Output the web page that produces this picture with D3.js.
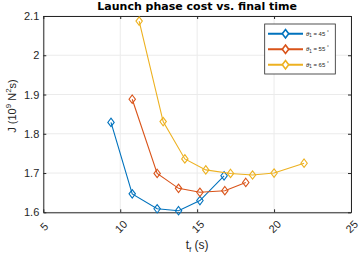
<!DOCTYPE html>
<html>
<head>
<meta charset="utf-8">
<script src="https://cdn.jsdelivr.net/npm/d3@7"></script>
<style>
  body { margin: 0; background: #fff; }
  svg text { font-family: "Liberation Sans", Arial, sans-serif; }
</style>
</head>
<body>
<div id="chart"></div>
<script>
// data
const angles = [45, 55, 65];
const tf45 = [9.40, 10.78, 12.40, 13.79, 15.18, 16.75];
const J45 = [1.829, 1.647, 1.609, 1.604, 1.630, 1.693];
const tf55 = [10.78, 12.40, 13.79, 15.18, 16.80, 18.16];
const J55 = [1.888, 1.699, 1.661, 1.651, 1.655, 1.676];
const tf65 = [11.23, 12.79, 14.20, 15.56, 17.17, 18.60, 20.00, 21.95];
const J65 = [2.087, 1.831, 1.736, 1.708, 1.699, 1.695, 1.700, 1.725];
const xTicks = [5, 10, 15, 20, 25];
const yTicks = [1.6, 1.7, 1.8, 1.9, 2.0, 2.1];
const colors = ["#0072BD", "#D95319", "#EDB120"];

const series = [
  { angle: angles[0], x: tf45, y: J45, color: colors[0] },
  { angle: angles[1], x: tf55, y: J55, color: colors[1] },
  { angle: angles[2], x: tf65, y: J65, color: colors[2] }
];

const width = 360, height = 259;
const pLeft = 43.3, pRight = 351, pTop = 16, pBottom = 212.3;
const axisColor = "#262626";

const svg = d3.select("#chart")
  .append("svg")
  .attr("width", width)
  .attr("height", height);

const x = d3.scaleLinear().domain([5, 25]).range([pLeft, pRight]);
const y = d3.scaleLinear().domain([1.6, 2.1]).range([pBottom, pTop]);

// grid
svg.append("g")
  .selectAll("line")
  .data(xTicks)
  .enter().append("line")
  .attr("x1", d => x(d)).attr("x2", d => x(d))
  .attr("y1", pTop).attr("y2", pBottom)
  .attr("stroke", "#ebebeb").attr("stroke-width", 1);

svg.append("g")
  .selectAll("line")
  .data(yTicks)
  .enter().append("line")
  .attr("x1", pLeft).attr("x2", pRight)
  .attr("y1", d => y(d)).attr("y2", d => y(d))
  .attr("stroke", "#ebebeb").attr("stroke-width", 1);

// axes
const xAxis = svg.append("g")
  .attr("transform", `translate(0,${pBottom})`)
  .call(d3.axisBottom(x).tickValues(xTicks).tickSizeInner(-3).tickSizeOuter(0).tickFormat(d3.format("d")));
xAxis.select(".domain").attr("stroke", axisColor);
xAxis.selectAll(".tick line").attr("stroke", axisColor);
xAxis.selectAll(".tick text")
  .attr("fill", axisColor)
  .attr("font-size", 11)
  .attr("text-anchor", "middle")
  .attr("y", 0)
  .attr("dy", 0)
  .attr("transform", "translate(1,15) rotate(-45)")
  .attr("dominant-baseline", "middle");

const yAxis = svg.append("g")
  .attr("transform", `translate(${pLeft},0)`)
  .call(d3.axisLeft(y).tickValues(yTicks).tickSizeInner(-3).tickSizeOuter(0).tickPadding(4).tickFormat(d => String(+d.toFixed(1))));
yAxis.select(".domain").attr("stroke", axisColor);
yAxis.selectAll(".tick line").attr("stroke", axisColor);
yAxis.selectAll(".tick text").attr("fill", axisColor).attr("font-size", 11);

// top and right box edges with ticks
const topAxis = svg.append("g")
  .attr("transform", `translate(0,${pTop})`)
  .call(d3.axisTop(x).tickValues(xTicks).tickSizeInner(-3).tickSizeOuter(0).tickFormat(""));
topAxis.selectAll("path, line").attr("stroke", axisColor);
const rightAxis = svg.append("g")
  .attr("transform", `translate(${pRight},0)`)
  .call(d3.axisRight(y).tickValues(yTicks).tickSizeInner(-3).tickSizeOuter(0).tickFormat(""));
rightAxis.selectAll("path, line").attr("stroke", axisColor);

// lines and markers
const line = d3.line()
  .x(d => x(d[0]))
  .y(d => y(d[1]));

const diamond = "M0,-4.2L3.2,0L0,4.2L-3.2,0Z";

series.forEach(s => {
  const pts = s.x.map((v, i) => [v, s.y[i]]);
  svg.append("path")
    .datum(pts)
    .attr("fill", "none")
    .attr("stroke", s.color)
    .attr("stroke-width", 1.1)
    .attr("d", line);
  svg.append("g")
    .selectAll("path")
    .data(pts)
    .enter().append("path")
    .attr("d", diamond)
    .attr("transform", d => `translate(${x(d[0])},${y(d[1])})`)
    .attr("fill", "none")
    .attr("stroke", s.color)
    .attr("stroke-width", 1.1);
});

// title
svg.append("text")
  .attr("x", (pLeft + pRight) / 2)
  .attr("y", 10)
  .attr("text-anchor", "middle")
  .style("font-family", "'DejaVu Sans', sans-serif")
  .attr("font-size", 11)
  .attr("font-weight", "bold")
  .attr("fill", "#000")
  .text("Launch phase cost vs. final time");

// x label
const xl = svg.append("text")
  .attr("x", (pLeft + pRight) / 2)
  .attr("y", 249)
  .attr("text-anchor", "middle")
  .attr("font-size", 12)
  .attr("fill", axisColor);
xl.append("tspan").text("t");
xl.append("tspan").attr("font-size", 8).attr("dy", 3).text("f");
xl.append("tspan").attr("dy", -3).text(" (s)");

// y label
const yl = svg.append("text")
  .attr("transform", `translate(16,106) rotate(-90)`)
  .attr("text-anchor", "middle")
  .attr("font-size", 11)
  .attr("fill", axisColor);
yl.append("tspan").text("J (10");
yl.append("tspan").attr("font-size", 8).attr("dy", -5).text("9");
yl.append("tspan").attr("dy", 5).text(" N");
yl.append("tspan").attr("font-size", 8).attr("dy", -5).text("2");
yl.append("tspan").attr("dy", 5).text("s)");

// legend
const lg = svg.append("g");
lg.append("rect")
  .attr("x", 264.7).attr("y", 24)
  .attr("width", 70.6).attr("height", 50)
  .attr("fill", "#fff")
  .attr("stroke", axisColor)
  .attr("stroke-width", 0.8);

series.forEach((s, i) => {
  const cy = 33.7 + i * 15.5;
  lg.append("line")
    .attr("x1", 268).attr("x2", 303)
    .attr("y1", cy).attr("y2", cy)
    .attr("stroke", s.color).attr("stroke-width", 2);
  lg.append("path")
    .attr("d", diamond)
    .attr("transform", `translate(285.5,${cy})`)
    .attr("fill", "#fff")
    .attr("stroke", s.color)
    .attr("stroke-width", 1.6);
  const t = lg.append("text")
    .attr("x", 306).attr("y", cy + 2)
    .attr("font-size", 6)
    .attr("fill", axisColor);
  t.append("tspan").attr("font-style", "italic").text("\u03B8");
  t.append("tspan").attr("font-size", 4.5).attr("dy", 1.5).text("1");
  t.append("tspan").attr("dy", -1.5).text(" = " + s.angle + " ");
  t.append("tspan").attr("font-size", 4.5).attr("dy", -2).text("\u00B0");
});
</script>
</body>
</html>
